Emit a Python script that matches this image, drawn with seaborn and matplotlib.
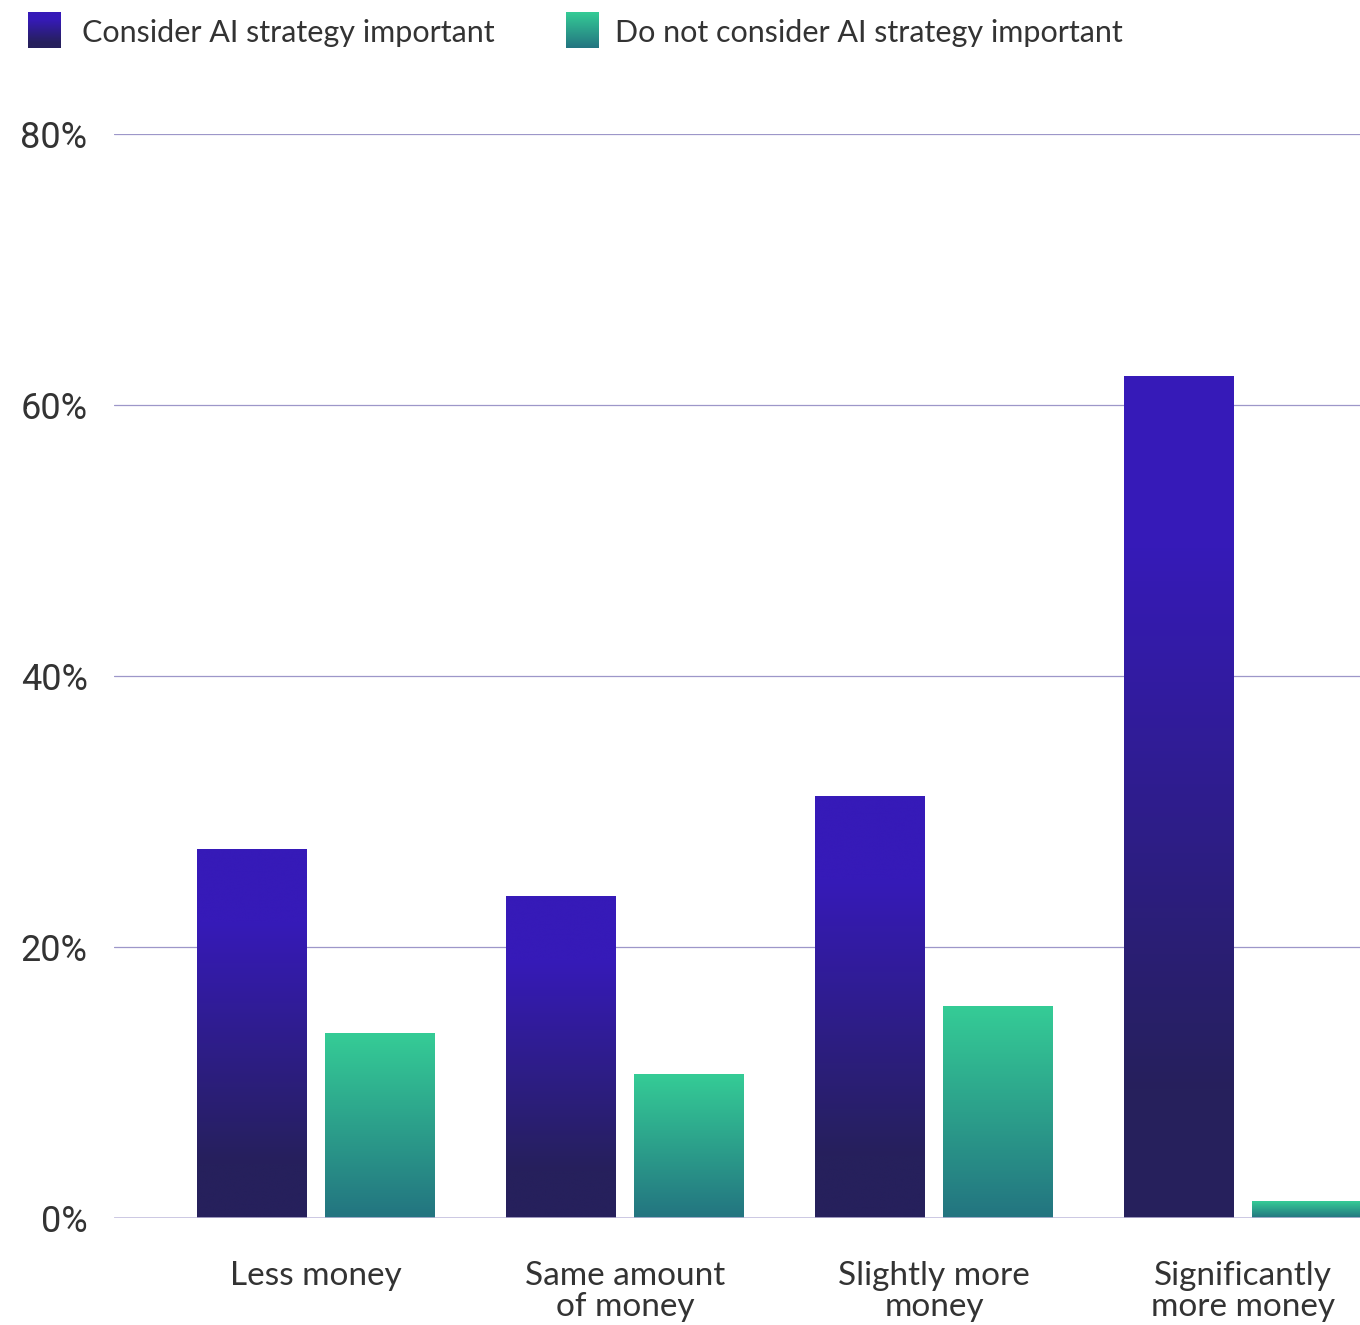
import numpy as np
import pandas as pd
import matplotlib
matplotlib.use("Agg")
import matplotlib.pyplot as plt
import seaborn as sns
from matplotlib.colors import LinearSegmentedColormap

# Survey answers: how much money will be spent, split by AI-strategy attitude
categories = ["Less money", "Same amount\nof money", "Slightly more\nmoney", "Significantly\nmore money"]
series = ["Consider AI strategy important", "Do not consider AI strategy important"]
important = [27.2, 23.7, 31.1, 62.1]
not_important = [13.6, 10.6, 15.6, 1.2]
yticks = [0, 20, 40, 60, 80]
ytick_labels = ["0%", "20%", "40%", "60%", "80%"]

df = pd.DataFrame({
    "category": categories * 2,
    "group": [series[0]] * len(categories) + [series[1]] * len(categories),
    "value": important + not_important,
})

# gradient colours (top -> bottom) for each series
BLUE_TOP, BLUE_BOTTOM = "#361ab8", "#26205c"
GREEN_TOP, GREEN_BOTTOM = "#35cc96", "#237480"
blue_cmap = LinearSegmentedColormap.from_list(
    "blue", [(0.0, BLUE_TOP), (0.2, BLUE_TOP), (0.85, BLUE_BOTTOM), (1.0, BLUE_BOTTOM)], N=256)
green_cmap = LinearSegmentedColormap.from_list("green", [GREEN_TOP, GREEN_BOTTOM], N=256)
TEXT = "#333333"

sns.set_theme(style="white")
plt.rcParams["font.family"] = ["Lato", "DejaVu Sans"]

W, H = 1360, 1325
fig = plt.figure(figsize=(W / 100, H / 100), dpi=100)
ax = fig.add_axes([114 / W, (H - 1218) / H, 1 - 114 / W, (1218 - 134) / H])

sns.barplot(
    data=df, x="category", y="value", hue="group",
    order=categories, hue_order=series,
    palette=[BLUE_TOP, GREEN_TOP], saturation=1,
    width=0.828, gap=0.14, legend=False, ax=ax,
)

# replace flat fills with vertical gradients
grad = np.linspace(0, 1, 256).reshape(-1, 1)
for patch in list(ax.patches):
    fc = matplotlib.colors.to_hex(patch.get_facecolor())
    cmap = blue_cmap if fc == BLUE_TOP else green_cmap
    x0, y0 = patch.get_x(), patch.get_y()
    w, h = patch.get_width(), patch.get_height()
    ax.imshow(grad, cmap=cmap, extent=[x0, x0 + w, y0, y0 + h],
              origin="upper", aspect="auto", zorder=1, interpolation="bicubic")
    patch.set_facecolor("none")
    patch.set_edgecolor("none")

ax.set_xlim(-0.654, 3.379)
ax.set_ylim(0, 80)
ax.set_axisbelow(True)
ax.set_yticks(yticks)
ax.set_yticklabels(ytick_labels, fontsize=26, color=TEXT, family=["Roboto", "DejaVu Sans"])
ax.yaxis.grid(True, color="#9d97c9", linewidth=0.9)
ax.xaxis.grid(False)
ax.axhline(0, color="#c2bcdd", linewidth=1.8, zorder=2)
ax.tick_params(axis="y", length=0, pad=19)
ax.tick_params(axis="x", length=0, pad=31)
for lab in ax.get_xticklabels():
    lab.set_fontsize(24)
    lab.set_color(TEXT)
    lab.set_linespacing(1.02)
ax.set_xlabel("")
ax.set_ylabel("")
for s in ax.spines.values():
    s.set_visible(False)

# legend with gradient swatches
for (sx, tx), cmap, label in zip([(28, 82), (566, 615)], [blue_cmap, green_cmap], series):
    sw = fig.add_axes([sx / W, (H - 48) / H, 33 / W, 36 / H])
    sw.imshow(grad, cmap=cmap, aspect="auto", interpolation="bicubic")
    sw.set_axis_off()
    fig.text(tx / W, 1 - 33 / H, label, fontsize=22, color=TEXT, va="center", ha="left")

fig.savefig("out.png", dpi=100)
